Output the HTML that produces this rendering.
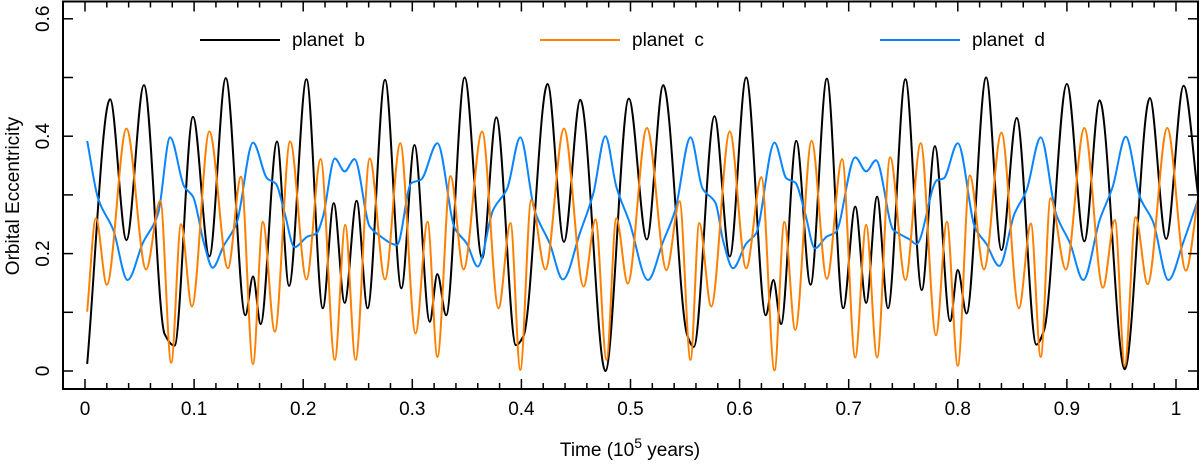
<!DOCTYPE html>
<html><head><meta charset="utf-8">
<style>
html,body{margin:0;padding:0;background:#fff;}
svg{display:block;font-family:"Liberation Sans",sans-serif;}
</style></head>
<body>
<svg id="chart" width="1200" height="464" viewBox="0 0 1200 464" xmlns="http://www.w3.org/2000/svg">
<rect x="0" y="0" width="1200" height="464" fill="#fff"/>
<g id="series"></g>
<g id="axes"></g>
<g id="legend"></g>
<text x="630" y="456" text-anchor="middle" font-size="19">Time (10<tspan dy="-8" font-size="14">5</tspan><tspan dy="8"> years)</tspan></text>
<text transform="translate(19,196) rotate(-90)" text-anchor="middle" font-size="19">Orbital Eccentricity</text>
</svg>
<script>
var xTicksMajor = [0,0.1,0.2,0.3,0.4,0.5,0.6,0.7,0.8,0.9,1];
var xTickLabels = ["0","0.1","0.2","0.3","0.4","0.5","0.6","0.7","0.8","0.9","1"];
var yTicks = [0,0.1,0.2,0.3,0.4,0.5,0.6];
var yTickLabels = ["0","0.2","0.4","0.6"];
var yTickLabelVals = [0,0.2,0.4,0.6];
var seriesNames = ["planet b","planet c","planet d"];
var seriesColors = ["#000000","#ff8000","#0a84ff"];

var bT = [0.002,0.023,0.038,0.054,0.073,0.082,0.099,0.114,0.129,0.147,0.154,0.161,0.176,0.187,0.203,0.218,0.228,0.238,0.249,0.259,0.275,0.290,0.302,0.316,0.323,0.331,0.348,0.364,0.377,0.395,0.402,0.424,0.439,0.454,0.477,0.4985,0.515,0.530,0.552,0.558,0.577,0.591,0.606,0.624,0.631,0.638,0.652,0.665,0.680,0.695,0.706,0.716,0.726,0.736,0.752,0.767,0.779,0.793,0.800,0.808,0.826,0.840,0.854,0.872,0.879,0.900,0.916,0.930,0.953,0.976,0.991,1.007,1.020];
var bE = [0.012,0.463,0.223,0.487,0.063,0.043,0.433,0.195,0.499,0.095,0.161,0.080,0.391,0.145,0.497,0.107,0.286,0.116,0.290,0.107,0.496,0.141,0.385,0.084,0.165,0.095,0.500,0.192,0.432,0.044,0.060,0.489,0.220,0.462,0.000,0.464,0.224,0.487,0.061,0.041,0.434,0.195,0.500,0.095,0.155,0.080,0.392,0.147,0.498,0.107,0.280,0.116,0.297,0.107,0.497,0.138,0.383,0.085,0.172,0.098,0.500,0.206,0.431,0.045,0.069,0.489,0.221,0.461,0.003,0.465,0.225,0.486,0.303];

var cT = [0.002,0.010,0.020,0.038,0.056,0.069,0.079,0.088,0.098,0.114,0.131,0.143,0.154,0.163,0.174,0.188,0.203,0.216,0.229,0.2385,0.248,0.261,0.275,0.289,0.303,0.314,0.323,0.335,0.347,0.364,0.379,0.390,0.399,0.409,0.422,0.439,0.457,0.468,0.478,0.487,0.4975,0.515,0.533,0.545,0.555,0.563,0.574,0.591,0.606,0.620,0.632,0.641,0.651,0.666,0.680,0.694,0.706,0.716,0.726,0.738,0.752,0.766,0.780,0.790,0.800,0.811,0.824,0.840,0.856,0.867,0.876,0.885,0.899,0.916,0.933,0.944,0.953,0.963,0.974,0.992,1.009,1.020];
var cE = [0.101,0.260,0.147,0.413,0.173,0.290,0.014,0.250,0.110,0.408,0.175,0.331,0.012,0.254,0.067,0.391,0.156,0.361,0.019,0.249,0.019,0.362,0.156,0.388,0.064,0.254,0.024,0.332,0.173,0.408,0.107,0.252,0.002,0.291,0.173,0.413,0.144,0.258,0.019,0.260,0.149,0.414,0.172,0.289,0.019,0.252,0.110,0.408,0.175,0.330,0.001,0.254,0.070,0.392,0.157,0.361,0.023,0.249,0.023,0.364,0.155,0.388,0.061,0.254,0.009,0.333,0.173,0.406,0.107,0.251,0.024,0.294,0.173,0.414,0.142,0.257,0.009,0.262,0.148,0.414,0.171,0.291];

var dT = [0.002,0.012,0.026,0.039,0.053,0.067,0.078,0.091,0.099,0.109,0.117,0.127,0.139,0.154,0.167,0.175,0.183,0.192,0.204,0.212,0.218,0.229,0.238,0.247,0.261,0.269,0.286,0.299,0.308,0.323,0.339,0.350,0.360,0.374,0.387,0.399,0.412,0.426,0.438,0.454,0.466,0.477,0.487,0.499,0.516,0.530,0.541,0.555,0.566,0.578,0.585,0.594,0.606,0.615,0.632,0.643,0.651,0.660,0.669,0.680,0.688,0.706,0.716,0.725,0.741,0.748,0.756,0.762,0.781,0.787,0.800,0.816,0.826,0.838,0.852,0.863,0.876,0.890,0.903,0.915,0.930,0.942,0.954,0.967,0.979,0.993,1.007,1.020];
var dE = [0.392,0.294,0.240,0.155,0.218,0.268,0.398,0.314,0.297,0.218,0.176,0.213,0.252,0.389,0.328,0.319,0.269,0.211,0.229,0.234,0.262,0.362,0.340,0.361,0.246,0.232,0.215,0.320,0.326,0.388,0.243,0.217,0.178,0.274,0.311,0.398,0.274,0.217,0.156,0.237,0.303,0.400,0.314,0.254,0.155,0.221,0.274,0.398,0.311,0.286,0.221,0.175,0.217,0.234,0.389,0.328,0.321,0.269,0.209,0.229,0.236,0.364,0.340,0.359,0.240,0.232,0.224,0.216,0.325,0.328,0.388,0.243,0.217,0.179,0.268,0.308,0.398,0.268,0.217,0.155,0.257,0.314,0.399,0.296,0.254,0.155,0.221,0.291];

var NS = "http://www.w3.org/2000/svg";
var L = 63, R = 1198, T = 1.5, B = 389;
function xs(t){ return 85 + t*1091; }
function ys(e){ return 371 - e*587; }

function mk(tag, attrs, parent){
  var el = document.createElementNS(NS, tag);
  for (var k in attrs) el.setAttribute(k, attrs[k]);
  parent.appendChild(el);
  return el;
}

function monotonePath(X, Y){
  var n = X.length, px = X.map(xs), py = Y.map(ys);
  var d = [], m = [];
  for (var i=0;i<n-1;i++) d.push((py[i+1]-py[i])/(px[i+1]-px[i]));
  m[0]=d[0]; m[n-1]=d[n-2];
  for (var i=1;i<n-1;i++){
    if (d[i-1]*d[i] <= 0) m[i]=0;
    else { var w1=2*(px[i+1]-px[i])+(px[i]-px[i-1]), w2=(px[i+1]-px[i])+2*(px[i]-px[i-1]);
      m[i]=(w1+w2)/(w1/d[i-1]+w2/d[i]); }
  }
  var s = "M"+px[0].toFixed(2)+","+py[0].toFixed(2);
  for (var i=0;i<n-1;i++){
    var h = (px[i+1]-px[i])/3;
    s += " C"+(px[i]+h).toFixed(2)+","+(py[i]+m[i]*h).toFixed(2)+" "+(px[i+1]-h).toFixed(2)+","+(py[i+1]-m[i+1]*h).toFixed(2)+" "+px[i+1].toFixed(2)+","+py[i+1].toFixed(2);
  }
  return s;
}

var sg = document.getElementById("series");
var cp = mk("clipPath",{id:"clip"},sg);
mk("rect",{x:L,y:T,width:R-L,height:B-T},cp);
var g = mk("g",{"clip-path":"url(#clip)"},sg);
var p;
p = mk("path",{d:monotonePath(bT,bE),fill:"none",stroke:seriesColors[0],"stroke-width":"2"},g);


p = mk("path",{d:monotonePath(dT,dE),fill:"none",stroke:seriesColors[2],"stroke-width":"2"},g);


p = mk("path",{d:monotonePath(cT,cE),fill:"none",stroke:seriesColors[1],"stroke-width":"2"},g);



var ax = document.getElementById("axes");
var fr = mk("rect",{x:L,y:T,width:R-L,height:B-T,fill:"none",stroke:"#000","stroke-width":"2"},ax);


for (var k=0;k<=51;k++){
  var t = k*0.02; if (t>1.021) break;
  var x = xs(t), major = (k%5===0), len = major?10:6;
  var tk = mk("line",{x1:x,y1:B,x2:x,y2:B-len,stroke:"#000","stroke-width":"1.5"},ax);
  
  
  var tk2 = mk("line",{x1:x,y1:T,x2:x,y2:T+len,stroke:"#000","stroke-width":"1.5"},ax);
  
  
}
xTicksMajor.forEach(function(v,i){
  var tx = mk("text",{x:xs(v),y:415,"text-anchor":"middle","font-size":"19"},ax);
  tx.textContent = xTickLabels[i];
  
  
});
yTicks.forEach(function(v){
  var y = ys(v);
  var a = mk("line",{x1:L,y1:y,x2:L+10,y2:y,stroke:"#000","stroke-width":"1.5"},ax);
  
  
  var b = mk("line",{x1:R,y1:y,x2:R-10,y2:y,stroke:"#000","stroke-width":"1.5"},ax);
  
  
});
yTickLabelVals.forEach(function(v,i){
  var tx = mk("text",{transform:"translate(49,"+ys(v)+") rotate(-90)","text-anchor":"middle","font-size":"19"},ax);
  tx.textContent = yTickLabels[i];
  
  
});

var lg = document.getElementById("legend");
var lx = [200,540,880];
seriesNames.forEach(function(nm,i){
  var ln = mk("line",{x1:lx[i],y1:40,x2:lx[i]+80,y2:40,stroke:seriesColors[i],"stroke-width":"2"},lg);
  
  
  var tx = mk("text",{x:lx[i]+92,y:46,"font-size":"19"},lg);
  tx.textContent = nm.replace(" ","\u00a0\u00a0");
  
  
});
</script>
</body></html>
